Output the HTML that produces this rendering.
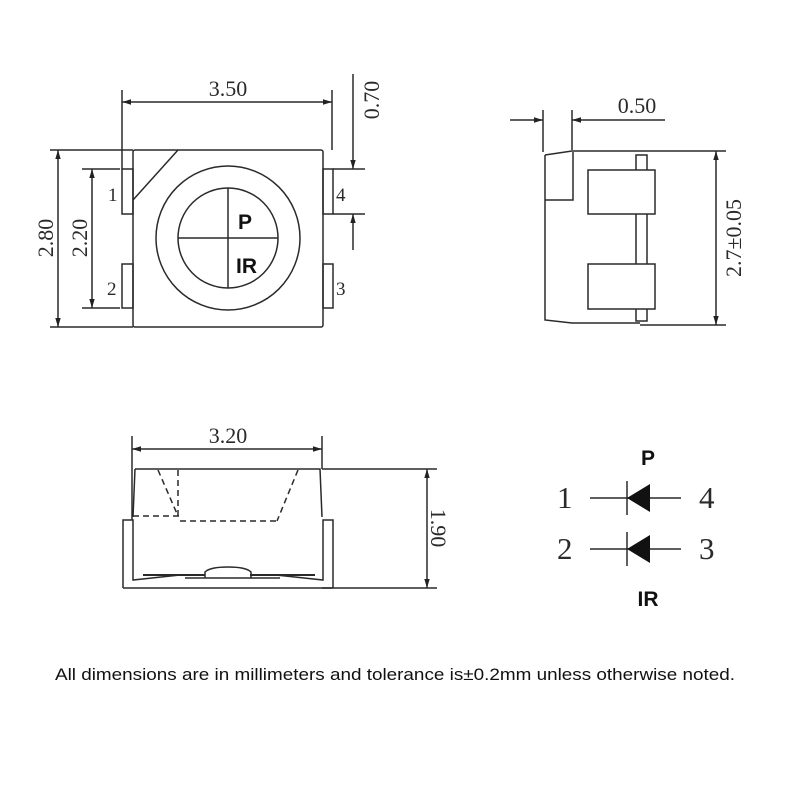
<!DOCTYPE html>
<html><head><style>body{margin:0;background:#fff}svg{display:block}</style></head><body>
<svg width="800" height="800" viewBox="0 0 800 800" xmlns="http://www.w3.org/2000/svg">
<defs>
<marker id="a" viewBox="0 0 10 10" refX="10" refY="5" markerWidth="9" markerHeight="9" orient="auto-start-reverse" markerUnits="userSpaceOnUse"><path d="M0,2 L10,5 L0,8 z" fill="#222"/></marker>
</defs>
<g stroke="#2a2a2a" stroke-width="1.5" fill="none">
<rect x="133" y="150" width="190" height="177" rx="2"/>
<line x1="178" y1="150" x2="133" y2="200"/>
<rect x="122" y="169" width="11" height="45"/>
<rect x="122" y="264" width="11" height="44"/>
<rect x="323" y="169" width="10" height="45"/>
<rect x="323" y="264" width="10" height="44"/>
<circle cx="228" cy="238" r="72"/>
<circle cx="228" cy="238" r="50"/>
<line x1="178" y1="238" x2="278" y2="238"/>
<line x1="228" y1="188" x2="228" y2="288"/>
<line x1="122" y1="90" x2="122" y2="169"/>
<line x1="332" y1="90" x2="332" y2="150"/>
<line x1="122" y1="102" x2="332" y2="102" marker-start="url(#a)" marker-end="url(#a)"/>
<line x1="353" y1="74" x2="353" y2="169" marker-end="url(#a)"/>
<line x1="353" y1="250" x2="353" y2="214" marker-end="url(#a)"/>
<line x1="333" y1="169" x2="365" y2="169"/>
<line x1="333" y1="214" x2="365" y2="214"/>
<line x1="50" y1="150" x2="133" y2="150"/>
<line x1="50" y1="327" x2="133" y2="327"/>
<line x1="58" y1="150" x2="58" y2="327" marker-start="url(#a)" marker-end="url(#a)"/>
<line x1="82" y1="169" x2="120" y2="169"/>
<line x1="82" y1="308" x2="120" y2="308"/>
<line x1="92" y1="169" x2="92" y2="308" marker-start="url(#a)" marker-end="url(#a)"/>
<path d="M545,155 L572,151 L640,151"/>
<path d="M545,155 L545,320 L572,323 L640,323"/>
<path d="M545,200 L573,200 L573,152"/>
<rect x="636" y="155" width="11" height="166"/>
<rect x="588" y="170" width="67" height="44" fill="#fff"/>
<rect x="588" y="264" width="67" height="45" fill="#fff"/>
<line x1="543" y1="110" x2="543" y2="152"/>
<line x1="572" y1="110" x2="572" y2="150"/>
<line x1="510" y1="120" x2="543" y2="120" marker-end="url(#a)"/>
<line x1="665" y1="120" x2="572" y2="120" marker-end="url(#a)"/>
<line x1="640" y1="151" x2="726" y2="151"/>
<line x1="640" y1="325" x2="726" y2="325"/>
<line x1="716" y1="151" x2="716" y2="325" marker-start="url(#a)" marker-end="url(#a)"/>
<path d="M135,469 L320,469 L322,517 M135,469 L133,517"/>
<path d="M123,588 L123,520 L133,520 L133,580 L180,575 M333,588 L333,520 L323,520 L323,580 L276,575 M123,588 L333,588"/>
<path d="M143,575 L205,575 M250,575 L315,575" stroke-width="2"/>
<path d="M205,578 L205,572 Q210,567 228,567 Q246,567 251,572 L251,578 L185,578"/>
<path d="M251,578 L280,578"/>
<g stroke-dasharray="6,4">
<line x1="133" y1="516" x2="180" y2="516"/>
<line x1="180" y1="521" x2="277" y2="521"/>
<line x1="178" y1="470" x2="178" y2="516"/>
<line x1="158" y1="470" x2="178" y2="516"/>
<line x1="298" y1="470" x2="277" y2="521"/>
</g>
<line x1="132" y1="436" x2="132" y2="520"/>
<line x1="322" y1="436" x2="322" y2="469"/>
<line x1="132" y1="449" x2="322" y2="449" marker-start="url(#a)" marker-end="url(#a)"/>
<line x1="322" y1="469" x2="437" y2="469"/>
<line x1="322" y1="588" x2="437" y2="588"/>
<line x1="427" y1="469" x2="427" y2="588" marker-start="url(#a)" marker-end="url(#a)"/>
<line x1="590" y1="498" x2="681" y2="498"/>
<line x1="627" y1="481" x2="627" y2="515"/>
<line x1="590" y1="549" x2="681" y2="549"/>
<line x1="627" y1="532" x2="627" y2="566"/>
</g>
<path d="M627,498 L650,484 L650,512 z" fill="#111"/>
<path d="M627,549 L650,535 L650,563 z" fill="#111"/>
<g font-family="Liberation Serif, serif" fill="#2a2a2a" font-size="22">
<text x="228" y="96" text-anchor="middle">3.50</text>
<text x="228" y="443" text-anchor="middle">3.20</text>
<text x="637" y="113" text-anchor="middle">0.50</text>
<text transform="translate(379,100) rotate(-90)" text-anchor="middle">0.70</text>
<text transform="translate(53,238) rotate(-90)" text-anchor="middle">2.80</text>
<text transform="translate(87,238) rotate(-90)" text-anchor="middle">2.20</text>
<text transform="translate(741,238) rotate(-90)" text-anchor="middle">2.7±0.05</text>
<text transform="translate(431,528) rotate(90)" text-anchor="middle">1.90</text>
<g font-size="19">
<text x="108" y="201">1</text><text x="107" y="295">2</text>
<text x="336" y="201">4</text><text x="336" y="295">3</text>
</g>
<g font-size="31">
<text x="557" y="508">1</text><text x="699" y="508">4</text>
<text x="557" y="559">2</text><text x="699" y="559">3</text>
</g>
</g>
<g font-family="Liberation Sans, sans-serif" font-weight="bold" fill="#111" font-size="21">
<text x="238" y="229">P</text>
<text x="236" y="273">IR</text>
<text x="648" y="465" text-anchor="middle">P</text>
<text x="648" y="606" text-anchor="middle">IR</text>
</g>
<text x="55" y="680" font-family="Liberation Sans, sans-serif" font-size="17" fill="#111" textLength="680" lengthAdjust="spacingAndGlyphs">All dimensions are in millimeters and tolerance is±0.2mm unless otherwise noted.</text>
</svg>
</body></html>
